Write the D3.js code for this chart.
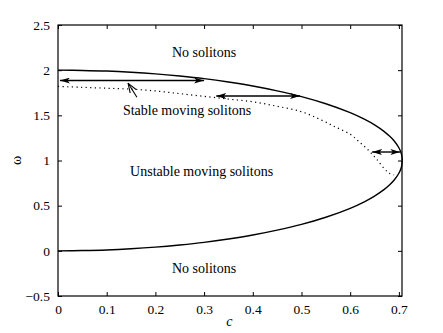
<!DOCTYPE html>
<html>
<head>
<meta charset="utf-8">
<script src="https://cdn.jsdelivr.net/npm/d3@7"></script>
<style>
  body { margin: 0; background: #fff; }
  text { font-family: "Liberation Serif", "Times New Roman", serif; }
</style>
</head>
<body>
<div class="chart"></div>
<script>
// boundary of existence region (solid curve)
var cVals     = [ 0, 0.05, 0.1, 0.15, 0.2, 0.25, 0.3, 0.35, 0.4, 0.45, 0.5, 0.55, 0.6, 0.63, 0.65, 0.67, 0.68, 0.69, 0.70, 0.705, 0.7071 ];
var upperVals = [ 2, 1.997, 1.990, 1.977, 1.959, 1.935, 1.906, 1.869, 1.825, 1.771, 1.707, 1.628, 1.529, 1.454, 1.394, 1.320, 1.274, 1.219, 1.141, 1.077, 1.0 ];
var lowerVals = [ 0, 0.003, 0.010, 0.023, 0.041, 0.065, 0.094, 0.131, 0.175, 0.229, 0.293, 0.372, 0.471, 0.546, 0.606, 0.680, 0.726, 0.781, 0.859, 0.923, 1.0 ];

// stability threshold (dotted curve)
var cDot   = [ 0, 0.05, 0.1, 0.15, 0.2, 0.25, 0.3, 0.35, 0.4, 0.45, 0.5, 0.54, 0.57, 0.6, 0.62, 0.64, 0.655, 0.67, 0.68, 0.69 ];
var omgDot = [ 1.82, 1.81, 1.80, 1.79, 1.77, 1.74, 1.71, 1.68, 1.65, 1.60, 1.54, 1.45, 1.37, 1.29, 1.20, 1.10, 1.01, 0.91, 0.86, 0.84 ];

// double arrows [c1, c2, omega]
var arrows = [ [ 0.004, 0.30, 1.885 ], [ 0.325, 0.497, 1.714 ], [ 0.645, 0.703, 1.094 ] ];
// pointer arrow from label to dotted curve [cTail, omegaTail, cTip, omegaTip]
var pointer = [ 0.162, 1.70, 0.144, 1.855 ];

var labels = [
  { text: 'No solitons', c: 0.30, w: 2.205 },
  { text: 'Stable moving solitons', c: 0.265, w: 1.555 },
  { text: 'Unstable moving solitons', c: 0.295, w: 0.88 },
  { text: 'No solitons', c: 0.30, w: -0.19 }
];

var xTicks = [ 0, 0.1, 0.2, 0.3, 0.4, 0.5, 0.6, 0.7 ];
var yTicks = [ -0.5, 0, 0.5, 1, 1.5, 2, 2.5 ];

var W = 443, H = 333;
var m = { left: 58, top: 25, right: 41, bottom: 37 };
var iw = W - m.left - m.right, ih = H - m.top - m.bottom;

var svg = d3.select( '.chart' ).append( 'svg' )
    .attr( 'width', W ).attr( 'height', H );
var g = svg.append( 'g' ).attr( 'transform', 'translate(' + m.left + ',' + m.top + ')' );

var x = d3.scaleLinear().domain( [ 0, 0.7064 ] ).range( [ 0, iw ] );
var y = d3.scaleLinear().domain( [ -0.5, 2.5 ] ).range( [ ih, 0 ] );

function fmt( d ) { return d < 0 ? '\u22120.5' : String( d ); }

// axes, ticks pointing inward, mirrored on top and right
var ax = [
  [ d3.axisBottom( x ).tickValues( xTicks ).tickFormat( fmt ), 'translate(0,' + ih + ')', true ],
  [ d3.axisTop( x ).tickValues( xTicks ).tickFormat( '' ), null, false ],
  [ d3.axisLeft( y ).tickValues( yTicks ).tickFormat( fmt ), null, true ],
  [ d3.axisRight( y ).tickValues( yTicks ).tickFormat( '' ), 'translate(' + iw + ',0)', false ]
];
ax.forEach( function( a ) {
  var sel = g.append( 'g' ).attr( 'transform', a[1] )
      .call( a[0].tickSizeInner( -4 ).tickSizeOuter( 0 ).tickPadding( 8 ) );
  sel.select( '.domain' ).remove();
  sel.selectAll( 'line' ).attr( 'stroke', '#000' );
  sel.selectAll( 'text' ).attr( 'fill', '#000' ).style( 'font-size', '13.5px' )
      .style( 'font-family', '"Liberation Serif", serif' );
});
g.append( 'rect' ).attr( 'width', iw ).attr( 'height', ih )
    .attr( 'fill', 'none' ).attr( 'stroke', '#000' ).attr( 'stroke-width', 1.2 );

function pts( xs, ys ) { return xs.map( function( c, i ) { return [ x( c ), y( ys[i] ) ]; }); }
var smooth = d3.line().curve( d3.curveCatmullRom );

g.append( 'path' ).attr( 'd', smooth( pts( cVals, upperVals ) ) )
    .attr( 'fill', 'none' ).attr( 'stroke', '#000' ).attr( 'stroke-width', 1.4 );
g.append( 'path' ).attr( 'd', smooth( pts( cVals, lowerVals ) ) )
    .attr( 'fill', 'none' ).attr( 'stroke', '#000' ).attr( 'stroke-width', 1.4 );
g.append( 'path' ).attr( 'd', smooth( pts( cDot, omgDot ) ) )
    .attr( 'fill', 'none' ).attr( 'stroke', '#000' ).attr( 'stroke-width', 1.2 )
    .attr( 'stroke-dasharray', '1.2,3.4' );

// arrow heads
var defs = svg.append( 'defs' );
defs.append( 'marker' ).attr( 'id', 'head' )
    .attr( 'viewBox', '0 0 10 6' ).attr( 'refX', 10 ).attr( 'refY', 3 )
    .attr( 'markerWidth', 10 ).attr( 'markerHeight', 6 ).attr( 'markerUnits', 'userSpaceOnUse' )
    .attr( 'orient', 'auto-start-reverse' )
  .append( 'path' ).attr( 'd', 'M0,0 L10,3 L0,6 L2.5,3 Z' ).attr( 'fill', '#000' );
defs.append( 'marker' ).attr( 'id', 'open' )
    .attr( 'viewBox', '0 0 10 8' ).attr( 'refX', 9.5 ).attr( 'refY', 4 )
    .attr( 'markerWidth', 10 ).attr( 'markerHeight', 8 ).attr( 'markerUnits', 'userSpaceOnUse' )
    .attr( 'orient', 'auto' )
  .append( 'path' ).attr( 'd', 'M0,0.5 L9.5,4 L0,7.5' ).attr( 'fill', 'none' ).attr( 'stroke', '#000' ).attr( 'stroke-width', 1.1 );

g.selectAll( '.arr' ).data( arrows ).enter().append( 'line' )
    .attr( 'x1', function( d ) { return x( d[0] ); } )
    .attr( 'x2', function( d ) { return x( d[1] ); } )
    .attr( 'y1', function( d ) { return y( d[2] ); } )
    .attr( 'y2', function( d ) { return y( d[2] ); } )
    .attr( 'stroke', '#000' ).attr( 'stroke-width', 1.4 )
    .attr( 'marker-start', 'url(#head)' ).attr( 'marker-end', 'url(#head)' );

g.append( 'line' )
    .attr( 'x1', x( pointer[0] ) ).attr( 'y1', y( pointer[1] ) )
    .attr( 'x2', x( pointer[2] ) ).attr( 'y2', y( pointer[3] ) )
    .attr( 'stroke', '#000' ).attr( 'stroke-width', 1.1 ).attr( 'marker-end', 'url(#open)' );

g.selectAll( '.lab' ).data( labels ).enter().append( 'text' )
    .attr( 'x', function( d ) { return x( d.c ); } )
    .attr( 'y', function( d ) { return y( d.w ); } )
    .attr( 'text-anchor', 'middle' ).attr( 'dy', '0.35em' )
    .style( 'font-size', '14px' )
    .text( function( d ) { return d.text; } );

svg.append( 'text' ).attr( 'x', m.left + x( 0.352 ) ).attr( 'y', 326 )
    .attr( 'text-anchor', 'middle' ).style( 'font-size', '14px' ).style( 'font-style', 'italic' )
    .text( 'c' );
svg.append( 'text' ).attr( 'transform', 'translate(21,' + ( m.top + y( 1 ) ) + ') rotate(-90)' )
    .attr( 'text-anchor', 'middle' ).style( 'font-size', '14px' )
    .text( '\u03c9' );
</script>
</body>
</html>
